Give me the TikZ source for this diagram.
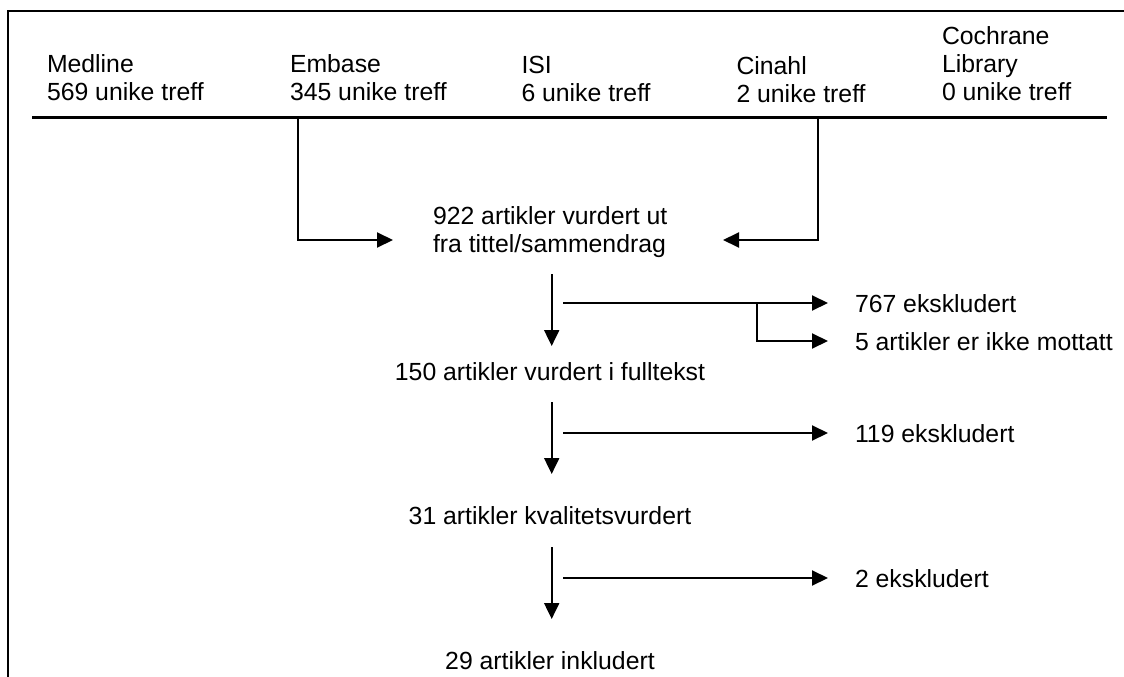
\documentclass[tikz,border=0pt]{standalone}
\usepackage{fontspec}
\setmainfont{Liberation Sans}
\usetikzlibrary{arrows.meta}
\begin{document}
\begin{tikzpicture}[x=1pt,y=-1pt,
  txt/.style={inner sep=0pt, outer sep=0pt, font=\fontsize{24.8}{28}\selectfont, align=left},
  ln/.style={line width=2pt},
  arr/.style={line width=2pt, -{Triangle[length=16pt 0 0,width=15pt 0 0]}}]
\useasboundingbox (0,0) rectangle (1124,677);
% frame
\draw[ln] (8,677) -- (8,11) -- (1124,11);
% rule
\coordinate (rl) at (32,117);
\coordinate (rr) at (1107,117);
\draw[line width=3pt] (rl) -- (rr);
% sources (anchor = baseline of last line)
\node[txt, anchor=base west] (med) at (47,100) {Medline\\569 unike treff};
\node[txt, anchor=base west] (emb) at (290,100) {Embase\\345 unike treff};
\node[txt, anchor=base west] (isi) at (521.5,101.5) {ISI\\6 unike treff};
\node[txt, anchor=base west] (cin) at (736.5,102) {Cinahl\\2 unike treff};
\node[txt, anchor=base west] (coc) at (942,100) {Cochrane\\Library\\0 unike treff};
% main chain
\node[txt, anchor=base west] (n922) at (433,252) {922 artikler vurdert ut\\fra tittel/sammendrag};
\node[txt, anchor=base] (n150) at (550,380) {150 artikler vurdert i fulltekst};
\node[txt, anchor=base] (n31) at (550,524) {31 artikler kvalitetsvurdert};
\node[txt, anchor=base] (n29) at (550,669) {29 artikler inkludert};
% exclusions
\node[txt, anchor=base west] (e767) at (855,312) {767 ekskludert};
\node[txt, anchor=base west] (e5) at (855,350) {5 artikler er ikke mottatt};
\node[txt, anchor=base west] (e119) at (855,442) {119 ekskludert};
\node[txt, anchor=base west] (e2) at (855,587) {2 ekskludert};
% coordinates
\coordinate (sl) at (298,117);
\coordinate (sr) at (818,117);
\coordinate (tl) at (393,240);
\coordinate (tr) at (723,240);
\coordinate (a1s) at (551.7,274);
\coordinate (a1e) at (551.7,346);
\coordinate (a2s) at (551.7,402);
\coordinate (a2e) at (551.7,474);
\coordinate (a3s) at (551.7,547);
\coordinate (a3e) at (551.7,619);
\coordinate (h1s) at (563,303);
\coordinate (h1e) at (828,303);
\coordinate (b1) at (757,303);
\coordinate (b1e) at (828,341);
\coordinate (h2s) at (563,433);
\coordinate (h2e) at (828,433);
\coordinate (h3s) at (563,578);
\coordinate (h3e) at (828,578);
% connectors
\draw[arr] (sl) |- (tl);
\draw[arr] (sr) |- (tr);
\draw[arr] (a1s) -- (a1e);
\draw[arr] (a2s) -- (a2e);
\draw[arr] (a3s) -- (a3e);
\draw[arr] (h1s) -- (h1e);
\draw[arr] (b1) |- (b1e);
\draw[arr] (h2s) -- (h2e);
\draw[arr] (h3s) -- (h3e);
\end{tikzpicture}
\end{document}
